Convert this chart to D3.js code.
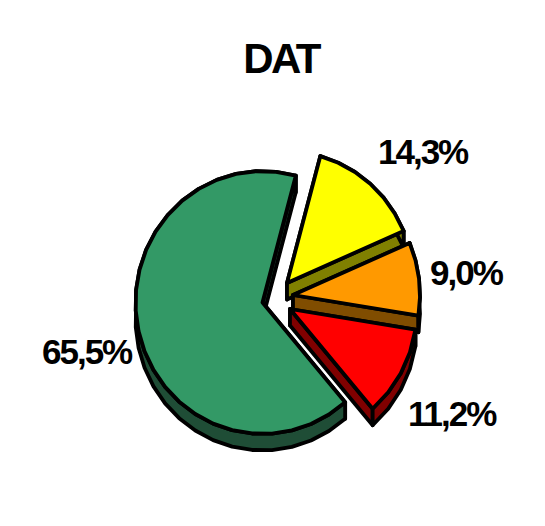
<!DOCTYPE html>
<html>
<head>
<meta charset="utf-8">
<script src="https://cdn.jsdelivr.net/npm/d3@7/dist/d3.min.js"></script>
<style>
html,body{margin:0;padding:0;background:#fff}
svg{display:block}
text{font-family:"Liberation Sans",Arial,sans-serif;font-weight:700;fill:#000}
</style>
</head>
<body>
<svg id="c" width="545" height="526"></svg>
<script>
const title = "DAT";
const categories = ["A", "B", "C", "D"];
const values = [14.3, 9.0, 11.2, 65.5];
const topColors = ["#ffff00", "#ff9900", "#ff0000", "#339966"];
const sideColors = ["#808000", "#804d00", "#800000", "#1f4d36"];

// layout
const centers = [[287, 283], [293, 295], [290, 309], [262.5, 302.5]];
const radius = 127, yScale = 1.035, depth = 16.5, step = Math.PI / 20;
const labelPos = [[378, 164], [430, 285], [408, 426], [42, 364]];

const svg = d3.select("#c");
const fmt = v => v.toFixed(1).replace(".", ",") + "%";
const arcs = d3.pie().sort(null).startAngle(15.2 * Math.PI / 180).endAngle((360 + 15.2) * Math.PI / 180)(values);
const line = d3.line().curve(d3.curveLinearClosed);

function arcPoints(a, c, dy) {
  const n = Math.max(2, Math.round((a.endAngle - a.startAngle) / step));
  return d3.range(n + 1).map(i => {
    const t = a.startAngle + (a.endAngle - a.startAngle) * i / n;
    const p = d3.pointRadial(t, radius);
    return [c[0] + p[0], c[1] + p[1] * yScale + dy];
  });
}

const g = svg.append("g");
arcs.forEach((a, i) => {
  const c = centers[i];
  const top = arcPoints(a, c, 0), low = arcPoints(a, c, depth);
  const apexLow = [c[0], c[1] + depth];
  const faces = [
    [c, top[0], low[0], apexLow],
    [c, top[top.length - 1], low[low.length - 1], apexLow],
    top.concat(low.slice().reverse())
  ];
  const sg = g.append("g").attr("class", "slice").datum(categories[i]);
  sg.selectAll("path.side").data(faces).join("path").attr("class", "side")
    .attr("d", line).attr("fill", sideColors[i])
    .attr("stroke", "#000").attr("stroke-width", 3.8).attr("stroke-linejoin", "round");
  sg.append("path").attr("class", "top")
    .attr("d", line([c].concat(top))).attr("fill", topColors[i])
    .attr("stroke", "#000").attr("stroke-width", 3.8).attr("stroke-linejoin", "round");
});

svg.append("text").attr("x", 281).attr("y", 73).attr("text-anchor", "middle")
  .attr("font-size", 42).attr("letter-spacing", -2.6).text(title);

svg.selectAll("text.lbl").data(values).join("text").attr("class", "lbl")
  .attr("x", (d, i) => labelPos[i][0]).attr("y", (d, i) => labelPos[i][1])
  .attr("font-size", 35).attr("letter-spacing", -2).text(fmt);
</script>
</body>
</html>
